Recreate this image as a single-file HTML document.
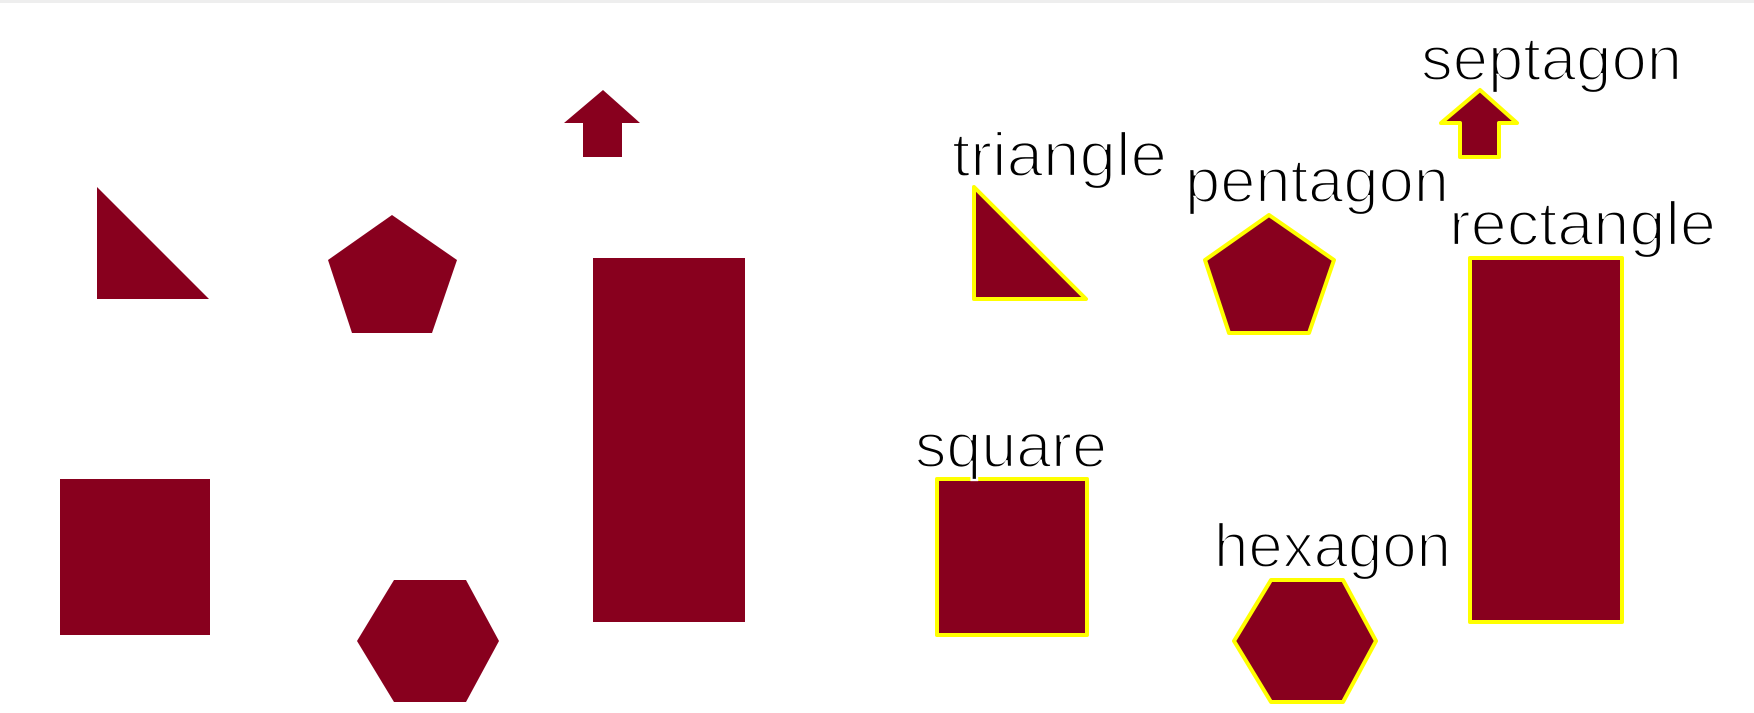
<!DOCTYPE html>
<html><head><meta charset="utf-8"><style>
html,body{margin:0;padding:0;background:#fff;}
svg{display:block;}
text{font-family:"Liberation Sans",sans-serif;font-size:62px;fill:#000;stroke:#fff;stroke-width:2.2px;}
</style></head><body>
<svg id="chart" width="1754" height="713" viewBox="0 0 1754 713" xmlns="http://www.w3.org/2000/svg">
<rect x="0" y="0" width="1754" height="3" fill="#eeeeee"/>
<g id="left"></g>
<g id="right"></g>
</svg>
<script>
const shapeNames = ["septagon","triangle","pentagon","rectangle","square","hexagon"];
const shapePoints = [
 [[603,90],[640,123],[622,123],[622,157],[583,157],[583,123],[564,123]],
 [[97,187],[209,299],[97,299]],
 [[392,215],[457,260],[432,333],[352,333],[328,260]],
 [[593,258],[745,258],[745,622],[593,622]],
 [[60,479],[210,479],[210,635],[60,635]],
 [[394,580],[466,580],[499,641],[466,702],[394,702],[357,641]]
];
const labelX = [1421,952,1185,1449,915,1214];
const labelBase = [80,176,202,245,467,567];
const labelW = [261,215,264,267,192,237];
const offset = 877;
const NS = "http://www.w3.org/2000/svg";
const L = document.getElementById('left'), R = document.getElementById('right');
shapeNames.forEach((n,i)=>{
  const pts = shapePoints[i].map(p=>p[0]+','+p[1]).join(' ');
  const a = document.createElementNS(NS,'polygon');
  a.setAttribute('points',pts);
  a.setAttribute('fill','#88001e');
  
  
  L.appendChild(a);
  const b = document.createElementNS(NS,'polygon');
  b.setAttribute('points',shapePoints[i].map(p=>(p[0]+offset)+','+p[1]).join(' '));
  b.setAttribute('fill','#88001e');
  b.setAttribute('stroke','#ffff00');
  b.setAttribute('stroke-width','4');
  b.setAttribute('stroke-linejoin','round');
  
  
  R.appendChild(b);
  const t = document.createElementNS(NS,'text');
  t.setAttribute('x',labelX[i]);
  t.setAttribute('y',labelBase[i]);
  t.setAttribute('textLength',labelW[i]);
  t.setAttribute('lengthAdjust','spacingAndGlyphs');
  t.textContent = n;
  
  
  R.appendChild(t);
});
</script>
</body></html>
